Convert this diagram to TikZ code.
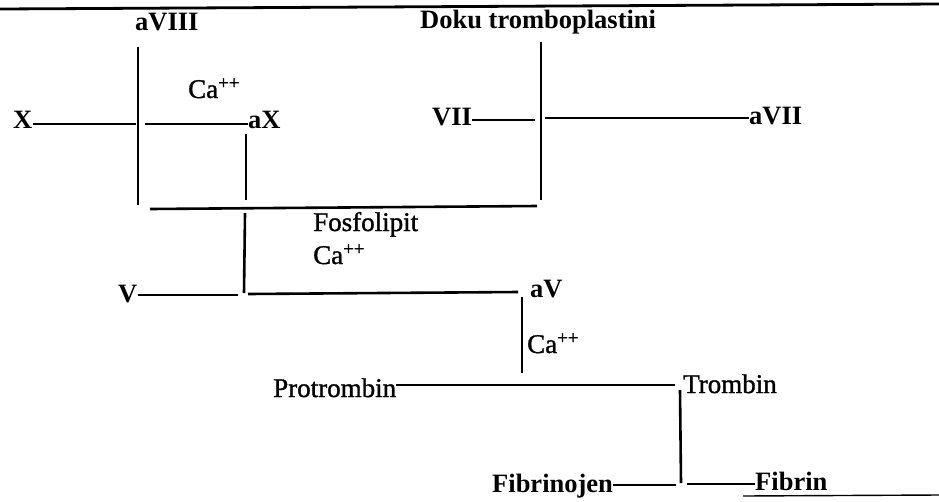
\documentclass[tikz,border=0pt]{standalone}
\usepackage{fontspec}
\setmainfont{Liberation Serif}
\newfontfamily\heavyserif{Liberation Serif}[FakeBold=1.2]
\usetikzlibrary{positioning}

\begin{document}
\begin{tikzpicture}[
        x=1pt, y=-1pt,
        factor/.style={inner sep=0pt, anchor=base west, font=\fontsize{26.5}{30}\selectfont\bfseries},
        helper/.style={inner sep=0pt, anchor=base west, font=\fontsize{27}{30}\selectfont\heavyserif},
        link/.style={line width=2.6pt},
        rule/.style={line width=2.8pt}
    ]
        \useasboundingbox (0,0) rectangle (939,501);

        % Page rules
        \draw[rule] (0,9) -- (939,4);
        \draw[line width=1.4pt] (743,496) -- (939,495);

        % Factors and cofactors
        \node [factor] (aVIII) at (135,30) {aVIII};
        \node [factor] (Doku) at (420,28) {Doku tromboplastini};
        \node [helper] (Ca1) at (188,98) {Ca\textsuperscript{++}};
        \node [factor] (X) at (13,128) {X};
        \node [factor] (aX) at (248,128) {aX};
        \node [factor] (VII) at (432,125) {VII};
        \node [factor] (aVII) at (749,124) {aVII};
        \node [helper] (Fosfo) at (313,231) {Fosfolipit};
        \node [helper] (Ca2) at (313,264) {Ca\textsuperscript{++}};
        \node [factor] (V) at (118,302) {V};
        \node [factor] (aV) at (530,297) {aV};
        \node [helper] (Ca3) at (527,353) {Ca\textsuperscript{++}};
        \node [helper] (Protr) at (273,397) {Protrombin};
        \node [helper] (Tromb) at (683,393) {Trombin};
        \node [factor] (Fibrinojen) at (492,492) {Fibrinojen};
        \node [factor] (Fibrin) at (755,490) {Fibrin};

        % Line ends and junctions
        \coordinate (VIIItop) at (138,47);
        \coordinate (VIIIbot) at (138,205);
        \coordinate (Xend) at (136,124);
        \coordinate (aXstart) at (145,124);
        \coordinate (aXtop) at (246,134);
        \coordinate (aXbot) at (246,200);
        \coordinate (Fleft) at (150,209);
        \coordinate (Fright) at (537,206);
        \coordinate (Dtop) at (541,42);
        \coordinate (Dbot) at (541,200);
        \coordinate (VIIend) at (535,120);
        \coordinate (aVIIstart) at (545,118);
        \coordinate (Ftop) at (245,213);
        \coordinate (Fbot) at (244,293);
        \coordinate (Vend) at (238,295);
        \coordinate (aVstart) at (248,294);
        \coordinate (aVend) at (518,292);
        \coordinate (aVtop) at (522,297);
        \coordinate (aVbot) at (522,373);
        \coordinate (Pend) at (675,385);
        \coordinate (Ttop) at (680,390);
        \coordinate (Tbot) at (681,483);
        \coordinate (FGend) at (676,485);
        \coordinate (Fstart) at (687,484);

        % Intrinsic side
        \draw[link] (X.east |- Xend) -- (Xend);
        \draw[link] (VIIItop) -- (VIIIbot);
        \draw[link] (aXstart) -- (aXstart -| aX.west);
        \draw[link] (aXtop) -- (aXbot);

        % Extrinsic side
        \draw[link] (Dtop) -- (Dbot);
        \draw[link] (VII.east |- VIIend) -- (VIIend);
        \draw[link] (aVIIstart) -- (aVIIstart -| aVII.west);

        % Common path
        \draw[link] (Fleft) -- (Fright);
        \draw[link] (Ftop) -- (Fbot);
        \draw[link] (V.east |- Vend) -- (Vend);
        \draw[link] (aVstart) -- (aVend);
        \draw[link] (aVtop) -- (aVbot);
        \draw[link] (Protr.east |- Pend) -- (Pend);
        \draw[link] (Ttop) -- (Tbot);
        \draw[link] (Fibrinojen.east |- FGend) -- (FGend);
        \draw[link] (Fstart) -- (Fstart -| Fibrin.west);

    \end{tikzpicture}
\end{document}
